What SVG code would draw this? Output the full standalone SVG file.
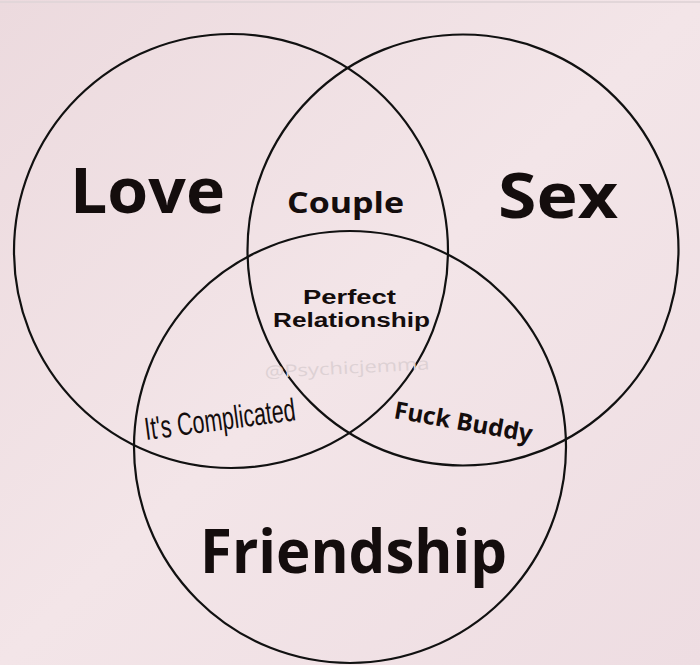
<svg xmlns="http://www.w3.org/2000/svg" width="700" height="665" viewBox="0 0 700 665">
  <defs>
    <linearGradient id="bg" x1="0" y1="0" x2="1" y2="1">
      <stop offset="0" stop-color="#ecdade"/>
      <stop offset="0.5" stop-color="#f3e5e8"/>
      <stop offset="1" stop-color="#eedde2"/>
    </linearGradient>
  </defs>
  <style>
    .ring { fill: none; stroke: #111; stroke-width: 2.2; }
    .big { font-family: "Open Sans", "Liberation Sans", sans-serif; font-weight: 700; fill: #140d0d; }
    .mid { font-family: "Open Sans", "Liberation Sans", sans-serif; font-weight: 700; fill: #140d0d; }
    .tight { font-family: "Liberation Sans", Arial, sans-serif; font-weight: 700; fill: #140d0d; }
    .cond { font-family: "Liberation Sans Narrow", "Liberation Sans", sans-serif; font-weight: 400; fill: #140d0d; }
    .wm { font-family: "Open Sans", "Liberation Sans", sans-serif; fill: #ddd1d4; }
  </style>
  <rect width="700" height="665" fill="url(#bg)"/>
  <line x1="0" y1="2" x2="700" y2="2" stroke="#e2d6d9" stroke-width="2"/>

  <g id="love">
    <circle class="ring" cx="231" cy="251" r="217"/>
    <text class="big" x="70" y="213" font-size="62" textLength="155" lengthAdjust="spacingAndGlyphs">Love</text>
  </g>
  <g id="sex">
    <circle class="ring" cx="463" cy="250" r="215.5"/>
    <text class="big" x="498" y="218" font-size="62" textLength="120" lengthAdjust="spacingAndGlyphs">Sex</text>
  </g>
  <g id="friendship">
    <circle class="ring" cx="350" cy="447" r="216"/>
    <text class="big" x="200" y="573" font-size="60" textLength="307" lengthAdjust="spacingAndGlyphs">Friendship</text>
  </g>

  <g id="couple">
    <text class="mid" x="287" y="213" font-size="29" textLength="117" lengthAdjust="spacingAndGlyphs">Couple</text>
  </g>
  <g id="perfect-relationship">
    <text class="tight" x="303" y="304" font-size="20" textLength="93" lengthAdjust="spacingAndGlyphs">Perfect</text>
    <text class="tight" x="273" y="327" font-size="20" textLength="157" lengthAdjust="spacingAndGlyphs">Relationship</text>
  </g>
  <g id="its-complicated">
    <text class="cond" x="0" y="0" font-size="32" textLength="152" lengthAdjust="spacingAndGlyphs" transform="translate(146,440) rotate(-7.5)">It's Complicated</text>
  </g>
  <g id="fuck-buddy">
    <text class="mid" x="0" y="0" font-size="24" textLength="140" lengthAdjust="spacingAndGlyphs" transform="translate(393,418) rotate(10)">Fuck Buddy</text>
  </g>
  <g id="watermark">
    <text class="wm" x="0" y="0" font-size="17" textLength="165" lengthAdjust="spacingAndGlyphs" transform="translate(265,378) rotate(-3)">@Psychicjemma</text>
  </g>
  <g id="connectors"/>
</svg>
